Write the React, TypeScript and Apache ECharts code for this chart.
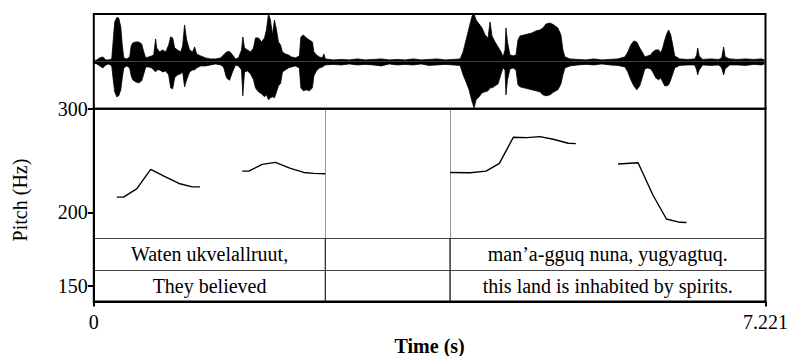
import { useEffect, useRef } from "react";
import * as echarts from "echarts";

const DURATION = 7.221;

// Waveform envelope (seconds, normalized amplitude)
const waveTime = [
  0, 0.032, 0.064, 0.097, 0.129, 0.161, 0.193, 0.209, 0.225, 0.247, 0.268, 0.29, 0.306, 0.322, 0.354, 0.386,
  0.402, 0.418, 0.451, 0.483, 0.515, 0.537, 0.558, 0.59, 0.622, 0.644, 0.665, 0.676, 0.708, 0.74, 0.773, 0.805,
  0.826, 0.848, 0.869, 0.901, 0.934, 0.955, 0.976, 0.998, 1.03, 1.062, 1.084, 1.105, 1.148, 1.202, 1.255, 1.309,
  1.363, 1.395, 1.427, 1.459, 1.491, 1.524, 1.556, 1.588, 1.602, 1.62, 1.652, 1.685, 1.717, 1.738, 1.77, 1.803,
  1.835, 1.856, 1.878, 1.899, 1.921, 1.942, 1.964, 1.985, 2.007, 2.028, 2.06, 2.092, 2.125, 2.167, 2.21, 2.226,
  2.253, 2.285, 2.318, 2.35, 2.366, 2.393, 2.425, 2.457, 2.473, 2.489, 2.575, 2.661, 2.747, 2.833, 2.919, 3.004,
  3.09, 3.176, 3.262, 3.348, 3.434, 3.519, 3.605, 3.691, 3.777, 3.863, 3.938, 3.97, 4.002, 4.034, 4.067, 4.088,
  4.11, 4.142, 4.174, 4.206, 4.238, 4.26, 4.281, 4.313, 4.346, 4.378, 4.399, 4.421, 4.431, 4.447, 4.474, 4.507,
  4.539, 4.56, 4.582, 4.625, 4.668, 4.711, 4.753, 4.796, 4.829, 4.861, 4.904, 4.947, 4.989, 5.022, 5.043, 5.065,
  5.118, 5.204, 5.29, 5.376, 5.462, 5.548, 5.633, 5.709, 5.741, 5.773, 5.805, 5.837, 5.869, 5.902, 5.923, 5.955,
  5.987, 6.009, 6.041, 6.073, 6.095, 6.116, 6.138, 6.159, 6.18, 6.202, 6.224, 6.245, 6.299, 6.385, 6.46, 6.481,
  6.492, 6.508, 6.546, 6.632, 6.718, 6.75, 6.771, 6.787, 6.836, 6.922, 7.008, 7.093, 7.179, 7.211,
];
const waveUpper = [
  0.011, 0.032, 0.074, 0.095, 0.032, 0.032, 0.053, 0.453, 0.832, 0.926, 0.916, 0.726, 0.347, 0.074, 0.053, 0.095,
  0.326, 0.389, 0.41, 0.41, 0.368, 0.2, 0.074, 0.095, 0.116, 0.137, 0.474, 0.284, 0.2, 0.242, 0.2, 0.347,
  0.516, 0.495, 0.284, 0.242, 0.2, 0.326, 0.768, 0.453, 0.242, 0.2, 0.305, 0.158, 0.116, 0.074, 0.053, 0.053,
  0.074, 0.137, 0.2, 0.211, 0.137, 0.053, 0.074, 0.242, 0.516, 0.284, 0.242, 0.2, 0.284, 0.495, 0.495, 0.41,
  0.495, 0.663, 1.0, 0.874, 0.558, 0.874, 0.663, 0.41, 0.347, 0.2, 0.158, 0.137, 0.095, 0.074, 0.116, 0.516,
  0.558, 0.495, 0.453, 0.41, 0.2, 0.137, 0.095, 0.074, 0.158, 0.053, 0.032, 0.042, 0.032, 0.053, 0.032, 0.042,
  0.053, 0.032, 0.042, 0.032, 0.053, 0.032, 0.042, 0.053, 0.032, 0.042, 0.053, 0.2, 0.453, 0.705, 0.958, 1.0,
  0.874, 0.789, 0.705, 0.558, 0.495, 0.832, 0.537, 0.41, 0.305, 0.2, 0.095, 0.242, 0.705, 0.41, 0.137, 0.116,
  0.137, 0.453, 0.537, 0.558, 0.579, 0.6, 0.642, 0.663, 0.705, 0.789, 0.81, 0.768, 0.705, 0.558, 0.242, 0.095,
  0.053, 0.042, 0.032, 0.053, 0.032, 0.042, 0.053, 0.095, 0.2, 0.347, 0.432, 0.41, 0.284, 0.179, 0.095, 0.116,
  0.137, 0.2, 0.242, 0.242, 0.179, 0.284, 0.453, 0.579, 0.663, 0.558, 0.347, 0.116, 0.053, 0.042, 0.053, 0.137,
  0.284, 0.116, 0.042, 0.053, 0.042, 0.074, 0.305, 0.095, 0.053, 0.042, 0.053, 0.042, 0.053, 0.032,
];
const waveLower = [
  -0.032, -0.053, -0.095, -0.137, -0.074, -0.053, -0.095, -0.389, -0.642, -0.747, -0.726, -0.6, -0.347, -0.137, -0.095, -0.137,
  -0.305, -0.389, -0.432, -0.453, -0.41, -0.263, -0.116, -0.116, -0.137, -0.179, -0.221, -0.179, -0.179, -0.221, -0.2, -0.284,
  -0.558, -0.579, -0.347, -0.284, -0.263, -0.221, -0.537, -0.389, -0.221, -0.179, -0.179, -0.137, -0.095, -0.095, -0.074, -0.053,
  -0.074, -0.116, -0.347, -0.4, -0.221, -0.074, -0.095, -0.179, -0.726, -0.221, -0.2, -0.263, -0.389, -0.558, -0.642, -0.684,
  -0.747, -0.705, -0.81, -0.768, -0.747, -0.768, -0.642, -0.516, -0.474, -0.221, -0.179, -0.137, -0.116, -0.095, -0.137, -0.558,
  -0.621, -0.6, -0.621, -0.558, -0.305, -0.2, -0.137, -0.116, -0.095, -0.074, -0.063, -0.074, -0.053, -0.074, -0.063, -0.074,
  -0.095, -0.053, -0.074, -0.063, -0.074, -0.053, -0.084, -0.074, -0.063, -0.074, -0.084, -0.284, -0.432, -0.6, -0.853, -0.979,
  -0.81, -0.747, -0.663, -0.642, -0.621, -0.558, -0.558, -0.516, -0.474, -0.263, -0.137, -0.179, -0.705, -0.389, -0.158, -0.137,
  -0.179, -0.495, -0.537, -0.558, -0.579, -0.6, -0.621, -0.642, -0.705, -0.726, -0.705, -0.642, -0.6, -0.474, -0.284, -0.137,
  -0.095, -0.074, -0.063, -0.074, -0.053, -0.074, -0.084, -0.116, -0.221, -0.389, -0.516, -0.6, -0.516, -0.305, -0.158, -0.137,
  -0.158, -0.221, -0.347, -0.389, -0.347, -0.432, -0.516, -0.516, -0.495, -0.389, -0.263, -0.137, -0.084, -0.074, -0.074, -0.179,
  -0.284, -0.179, -0.074, -0.084, -0.074, -0.137, -0.284, -0.158, -0.074, -0.074, -0.084, -0.063, -0.074, -0.053,
];

// Pitch contour (seconds, Hz); null separates voiced stretches
const pitchTime = [
  0.247, 0.319, 0.461, 0.612, 0.754, 0.915, 1.059, 1.141, null,
  1.596, 1.666, 1.81, 1.953, 2.114, 2.257, 2.364, 2.489, null,
  3.831, 4.045, 4.217, 4.36, 4.51, 4.654, 4.796, 4.939, 5.1, 5.182, null,
  5.636, 5.851, 6.012, 6.156, 6.299, 6.371,
];
const pitchHz = [
  212.2, 212.2, 219.2, 236.6, 230.5, 223.9, 220.9, 220.9, null,
  235.0, 235.0, 241.3, 243.2, 237.5, 233.8, 232.9, 232.6, null,
  233.8, 233.5, 235.0, 242.3, 268.4, 268.0, 269.0, 266.3, 262.1, 261.7, null,
  241.6, 242.8, 213.8, 194.8, 192.3, 192.1,
];

// TextGrid intervals
const intervalStart = [0, 2.489, 3.829];
const intervalEnd = [2.489, 3.829, DURATION];
const tier1Labels = ["Waten ukvelallruut,", "", "man\u2019a-gguq nuna, yugyagtuq."];
const tier2Labels = ["They believed", "", "this land is inhabited by spirits."];

const pitchTicks = [150, 200, 300];
const timeTicks = [0, 7.221];

const FONT = '"Liberation Serif", "Times New Roman", serif';

export default function App() {
  const ref = useRef<HTMLDivElement>(null);
  useEffect(() => {
    if (!ref.current) return;
    const chart = echarts.init(ref.current, undefined, { renderer: "svg" });
    const L = 93.8;
    const R = 789 - 765.5;
    const waveTop = 14;
    const pitchTop = 108.8;
    const bottomY = 301.5;
    const tierTop = 238;

    const upper = waveTime.map((t, i) => [t, waveUpper[i]]);
    const lower = waveTime.map((t, i) => [t, waveLower[i]]);
    const pitch = pitchTime.map((t, i) => (t === null ? ["-", "-"] : [t, pitchHz[i]]));

    const tierItems: any[] = [];
    const tierText: string[] = [];
    [tier1Labels, tier2Labels].forEach((labels, k) => {
      labels.forEach((lab, i) => {
        tierItems.push([intervalStart[i], intervalEnd[i], k]);
        tierText.push(lab);
      });
    });

    const gridBase = { left: L, right: R, outerBoundsMode: "none", containLabel: false };

    chart.setOption({
      animation: false,
      backgroundColor: "#fff",
      textStyle: { fontFamily: FONT },
      grid: [
        { ...gridBase, top: waveTop, height: pitchTop - waveTop, show: true, borderColor: "#000", borderWidth: 2 },
        { ...gridBase, top: pitchTop, height: bottomY - pitchTop, show: true, borderColor: "#000", borderWidth: 2 },
        { ...gridBase, top: tierTop, height: bottomY - tierTop, show: false },
      ],
      xAxis: [
        { type: "value", gridIndex: 0, min: 0, max: DURATION, show: false },
        {
          type: "value",
          gridIndex: 1,
          min: 0,
          max: DURATION,
          splitLine: { show: false },
          axisLine: { show: true, onZero: false, lineStyle: { color: "#000", width: 2 } },
          axisTick: { show: true, customValues: timeTicks, length: 5, lineStyle: { color: "#000", width: 2 } },
          axisLabel: {
            customValues: timeTicks,
            margin: 10,
            color: "#000",
            fontSize: 20,
            fontFamily: FONT,
            formatter: (v: number) => (v === 0 ? "0" : String(v)),
          },
          name: "Time (s)",
          nameLocation: "middle",
          nameGap: 34,
          nameTextStyle: { color: "#000", fontSize: 20, fontWeight: "bold", fontFamily: FONT },
        },
        { type: "value", gridIndex: 2, min: 0, max: DURATION, show: false },
      ],
      yAxis: [
        { type: "value", gridIndex: 0, min: -1, max: 1, show: false },
        {
          type: "log",
          gridIndex: 1,
          min: 141,
          max: 300,
          splitLine: { show: false },
          minorTick: { show: false },
          axisLine: { show: true, lineStyle: { color: "#000", width: 2 } },
          axisTick: { show: true, customValues: pitchTicks, length: 6, lineStyle: { color: "#000", width: 2 } },
          axisLabel: { customValues: pitchTicks, margin: 6, color: "#000", fontSize: 20, fontFamily: FONT },
        },
        {
          type: "value",
          gridIndex: 2,
          min: 0,
          max: 2,
          interval: 1,
          inverse: true,
          axisLine: { show: false },
          axisTick: { show: false },
          axisLabel: { show: false },
          splitLine: { show: true, lineStyle: { color: "#444", width: 1.2 } },
        },
      ],
      graphic: [
        {
          type: "text",
          x: 20,
          y: 200,
          rotation: Math.PI / 2,
          style: {
            text: "Pitch (Hz)",
            align: "center",
            verticalAlign: "middle",
            font: `20px ${FONT}`,
            fill: "#000",
          },
        },
      ],
      series: [
        {
          type: "line",
          xAxisIndex: 0,
          yAxisIndex: 0,
          data: upper,
          showSymbol: false,
          lineStyle: { color: "#000", width: 0.8 },
          areaStyle: { color: "#000", opacity: 1 },
          silent: true,
        },
        {
          type: "line",
          xAxisIndex: 0,
          yAxisIndex: 0,
          data: lower,
          showSymbol: false,
          lineStyle: { color: "#000", width: 0.8 },
          areaStyle: { color: "#000", opacity: 1 },
          silent: true,
        },
        {
          type: "line",
          xAxisIndex: 1,
          yAxisIndex: 1,
          data: pitch,
          showSymbol: false,
          connectNulls: false,
          lineStyle: { color: "#000", width: 1.4 },
          silent: true,
          markLine: {
            silent: true,
            symbol: "none",
            label: { show: false },
            lineStyle: { color: "#333", width: 1, type: [1, 1] },
            data: [{ xAxis: intervalStart[1] }, { xAxis: intervalStart[2] }],
          },
        },
        {
          type: "custom",
          xAxisIndex: 2,
          yAxisIndex: 2,
          data: tierItems,
          silent: true,
          renderItem: (params: any, api: any) => {
            const s = api.value(0);
            const e = api.value(1);
            const k = api.value(2);
            const p0 = api.coord([s, k]);
            const p1 = api.coord([e, k + 1]);
            const children: any[] = [];
            if (e < DURATION) {
              children.push({
                type: "line",
                shape: { x1: p1[0], y1: p0[1], x2: p1[0], y2: p1[1] },
                style: { stroke: "#222", lineWidth: 1.2 },
              });
            }
            children.push({
              type: "text",
              style: {
                text: tierText[params.dataIndex],
                x: (p0[0] + p1[0]) / 2,
                y: (p0[1] + p1[1]) / 2,
                align: "center",
                verticalAlign: "middle",
                font: `20px ${FONT}`,
                fill: "#000",
              },
            });
            return { type: "group", children };
          },
        },
      ],
    });
    return () => chart.dispose();
  }, []);
  return <div ref={ref} style={{ position: "fixed", left: 0, top: 0, width: 789, height: 356 }} />;
}
